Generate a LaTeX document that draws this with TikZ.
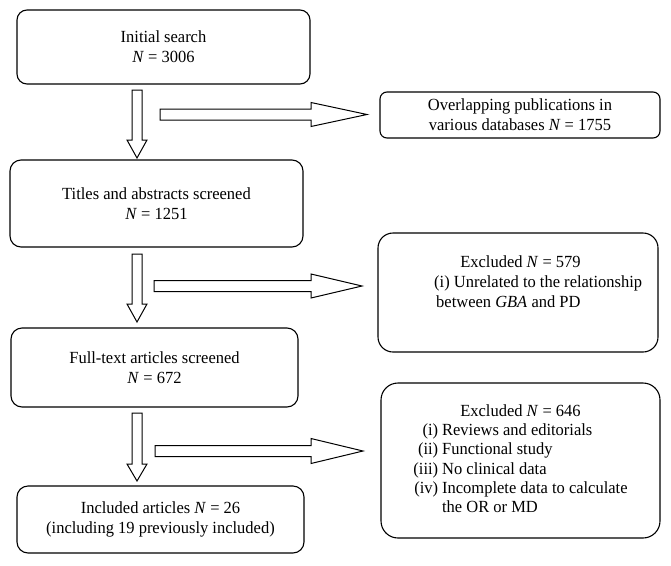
\documentclass[tikz,border=0pt]{standalone}
\usepackage{fontspec}
\setmainfont{Liberation Serif}[FakeStretch=0.97]
\begin{document}
\begin{tikzpicture}[x=1pt,y=-1pt,
  every node/.style={font=\fontsize{17}{20}\selectfont},
  box/.style={draw=black, line width=1.1pt, rounded corners=#1, align=center, inner sep=2pt},
  box/.default=10pt,
  blockarrow/.style={draw=black, line width=1pt, fill=white, line join=miter},
  txt/.style={inner sep=0pt}
]
\useasboundingbox (0,0) rectangle (671,565);
\fill[white] (0,0) rectangle (671,565);

% left column boxes
\node[box=10pt, minimum width=293pt, minimum height=74pt] (initial) at (163.5,47)
  {Initial search\\\textit{N} = 3006};
\node[box=11pt, minimum width=293pt, minimum height=87pt] (titles) at (156.5,203.5)
  {Titles and abstracts screened\\\textit{N} = 1251};
\node[box=11pt, minimum width=287pt, minimum height=79pt] (full) at (154.5,367.5)
  {Full-text articles screened\\\textit{N} = 672};
\node[box=11pt, minimum width=287pt, minimum height=67pt] (incl) at (160.5,519.5)
  {Included articles \textit{N} = 26\\(including 19 previously included)};

% right column boxes
\node[box=7pt, minimum width=280pt, minimum height=46pt] (overlap) at (520,115)
  {Overlapping publications in\\various databases \textit{N} = 1755};
\node[box=15pt, minimum width=280pt, minimum height=119pt] (excl1) at (518,292.5) {};
\node[txt, anchor=base] (excl1h) at (520.5,267) {Excluded \textit{N} = 579};
\node[txt, anchor=base west] (excl1a) at (434,287) {(i) Unrelated to the relationship};
\node[txt, anchor=base west] (excl1b) at (436,307) {between \textit{GBA} and PD};

\node[box=17pt, minimum width=279pt, minimum height=155pt,
      font=\fontsize{17}{19.3}\selectfont] (excl2) at (520.5,460.5)
  {\begin{tabular}{@{}r@{\hspace{4pt}}l@{}}
   \multicolumn{2}{@{}c@{}}{Excluded \textit{N} = 646}\\
   (i) & Reviews and editorials\\
   (ii) & Functional study\\
   (iii) & No clinical data\\
   (iv) & Incomplete data to calculate\\
        & the OR or MD
   \end{tabular}};

% down block arrows
\coordinate (d1) at (137,90);
\coordinate (d2) at (137,254);
\coordinate (d3) at (137,413);
\draw[blockarrow] (d1) ++(-5,0) -- ++(10,0) -- ++(0,50) -- ++(5,0) -- ++(-10,18) -- ++(-10,-18) -- ++(5,0) -- cycle;
\draw[blockarrow] (d2) ++(-5,0) -- ++(10,0) -- ++(0,50) -- ++(5,0) -- ++(-10,18) -- ++(-10,-18) -- ++(5,0) -- cycle;
\draw[blockarrow] (d3) ++(-5,0) -- ++(10,0) -- ++(0,51) -- ++(5,0) -- ++(-10,17) -- ++(-10,-17) -- ++(5,0) -- cycle;

% right block arrows
\coordinate (r1) at (160,114.5);
\coordinate (r2) at (154,286);
\coordinate (r3) at (155,451);
\draw[blockarrow] (r1) ++(0,-5.5) -- ++(151,0) -- ++(0,-6.5) -- ++(56,12) -- ++(-56,12) -- ++(0,-6.5) -- ++(-151,0) -- cycle;
\draw[blockarrow] (r2) ++(0,-5.5) -- ++(157,0) -- ++(0,-6.5) -- ++(51,12) -- ++(-51,12) -- ++(0,-6.5) -- ++(-157,0) -- cycle;
\draw[blockarrow] (r3) ++(0,-5.5) -- ++(156,0) -- ++(0,-7) -- ++(52,12.5) -- ++(-52,12.5) -- ++(0,-7) -- ++(-156,0) -- cycle;
\end{tikzpicture}
\end{document}
